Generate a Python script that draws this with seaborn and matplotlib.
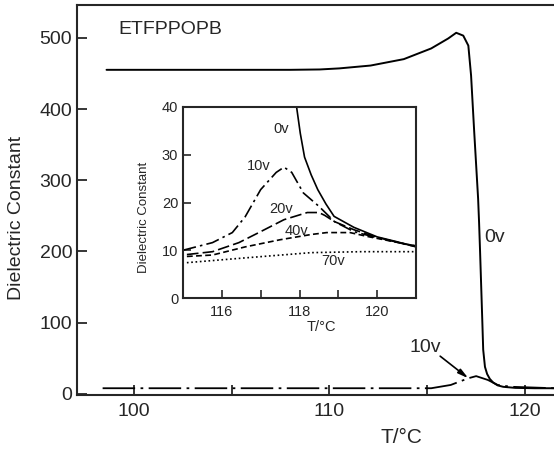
"""
ETFPPOPB dielectric constant vs temperature, with bias-voltage inset.
"""
import numpy as np
import pandas as pd
import matplotlib
matplotlib.use('Agg')
import matplotlib.pyplot as plt
import seaborn as sns

# ── data ───────────────────────────────────────────────────────────────────────
main_t_0v = [98.6, 100, 104, 108, 109.5, 110.5, 112.1, 113.8, 115.2, 116.07, 116.48,
             116.84, 117.1, 117.24, 117.4, 117.6, 117.65, 117.7, 117.81, 117.86, 117.95,
             118.06, 118.2, 118.37, 118.6, 118.88, 119.5, 120.5, 121.5]
main_e_0v = [455, 455, 455, 455, 455.5, 457, 461, 470, 485, 499, 507,
             503, 489, 447, 368, 274, 240, 200, 106, 62, 38,
             28, 21, 16, 12, 10, 8.5, 8, 8]
main_t_10v = [98.4, 100, 105, 110, 115.2, 116.2, 117.1, 117.5, 118.1, 118.6, 119.3, 121.5]
main_e_10v = [8, 8, 8, 8, 8, 12.6, 22, 25, 19.6, 12.6, 10, 8]

ins_t_0v = [117.88, 117.92, 118.02, 118.13, 118.3, 118.47, 118.68, 118.89, 119.4,
            120.0, 120.5, 121.0]
ins_e_0v = [45, 40.3, 34.5, 29.5, 25.8, 22.7, 19.7, 17.1, 14.8,
            12.8, 11.8, 10.7]
ins_t_10v = [115, 115.76, 116.27, 116.6, 117.0, 117.4, 117.6, 117.8, 118.1, 118.5,
             118.9, 119.4, 120.0, 120.8, 121]
ins_e_10v = [10, 11.6, 13.7, 17, 22.7, 26.3, 27.4, 26.3, 22, 19.2,
             16, 13.9, 12.6, 11.2, 10.9]
ins_t_20v = [115.1, 115.76, 116.44, 117.0, 117.6, 118.2, 118.5, 118.65, 118.9, 119.4,
             120, 120.8, 121]
ins_e_20v = [9.1, 9.7, 11.6, 13.9, 16.4, 17.9, 17.9, 17.3, 16, 14.3,
             12.7, 11.1, 10.8]
ins_t_40v = [115.1, 115.76, 116.6, 117.5, 118.3, 118.7, 119.3, 119.8, 120.3, 120.8, 121]
ins_e_40v = [8.7, 9, 10.7, 12.2, 13.3, 13.7, 13.7, 12.8, 12, 11.2, 10.9]
ins_t_70v = [115.1, 116.6, 118.3, 119.6, 120.8, 121]
ins_e_70v = [7.4, 8.4, 9.5, 9.7, 9.7, 9.7]

main_yticks = [0, 100, 200, 300, 400, 500]
main_xticks = [100, 110, 120]
main_xminor = [105, 115]
ins_yticks = [0, 10, 20, 30, 40]
ins_xticks = [116, 118, 120]
ins_xminor = [117, 119]

sns.set_style('ticks')
plt.rcParams['font.family'] = ['Liberation Sans', 'DejaVu Sans']
plt.rcParams['axes.linewidth'] = 1.5

fig = plt.figure(figsize=(5.54, 4.49), dpi=100)

# ── main axes ─────────────────────────────────────────────────────────────────
ax = fig.add_axes([77 / 554, (449 - 395) / 449, (554 - 77) / 554, 390 / 449])
sns.lineplot(x=main_t_0v, y=main_e_0v, ax=ax, color='black', lw=1.4, estimator=None)
sns.lineplot(x=main_t_10v, y=main_e_10v, ax=ax, color='black', lw=1.3, estimator=None,
             linestyle=(0, (18, 3, 1.5, 3)))
ax.set_xlim(97.09, 121.48)
ax.set_ylim(-1.5, 546)
ax.set_xticks(main_xticks)
ax.set_xticks(main_xminor, minor=True)
ax.set_yticks(main_yticks)
ax.tick_params(which='both', direction='in', length=7, width=1.3, labelsize=14)
ax.tick_params(axis='x', pad=6)
ax.spines['right'].set_visible(False)
ax.set_xlabel('T/°C', fontsize=15)
ax.xaxis.set_label_coords(0.681, -0.085)
ax.set_ylabel('Dielectric Constant', fontsize=14)
ax.yaxis.set_label_coords(-0.108, 0.455)

ax.text(99.23, 512, 'ETFPPOPB', fontsize=14, va='center', ha='left')
ax.text(118.42, 220, '0v', fontsize=14, va='center', ha='center')
ax.text(114.9, 65, '10v', fontsize=14, va='center', ha='center')
ax.annotate('', xy=(117.1, 22), xytext=(115.66, 53),
            arrowprops=dict(arrowstyle='-|>,head_length=0.6,head_width=0.15',
                            color='black', lw=1.2, shrinkA=0, shrinkB=0))

# ── inset ─────────────────────────────────────────────────────────────────────
ins = fig.add_axes([183 / 554, (449 - 298) / 449, (416 - 183) / 554, (298 - 107) / 449])
sns.lineplot(x=ins_t_0v, y=ins_e_0v, ax=ins, color='black', lw=1.2, estimator=None)
sns.lineplot(x=ins_t_10v, y=ins_e_10v, ax=ins, color='black', lw=1.2, estimator=None,
             linestyle=(0, (8, 2.5, 1.5, 2.5)))
sns.lineplot(x=ins_t_20v, y=ins_e_20v, ax=ins, color='black', lw=1.2, estimator=None,
             linestyle=(0, (7, 2.5)))
sns.lineplot(x=ins_t_40v, y=ins_e_40v, ax=ins, color='black', lw=1.2, estimator=None,
             linestyle=(0, (3.5, 2)))
sns.lineplot(x=ins_t_70v, y=ins_e_70v, ax=ins, color='black', lw=1.2, estimator=None,
             linestyle=(0, (1, 1.6)))
ins.set_xlim(115, 121)
ins.set_ylim(0, 40)
ins.set_xticks(ins_xticks)
ins.set_xticks(ins_xminor, minor=True)
ins.set_yticks(ins_yticks)
ins.tick_params(which='both', direction='in', length=6, width=1.2, labelsize=10.5)
ins.tick_params(axis='x', pad=5)
ins.set_xlabel('T/°C', fontsize=10.5)
ins.xaxis.set_label_coords(0.592, -0.115)
ins.set_ylabel('Dielectric Constant', fontsize=9.5)
ins.yaxis.set_label_coords(-0.14, 0.42)

for tx, ty, lab in [(117.53, 35.4, '0v'), (116.95, 27.6, '10v'), (117.53, 18.7, '20v'),
                    (117.91, 14.1, '40v'), (118.87, 7.8, '70v')]:
    ins.text(tx, ty, lab, fontsize=10.5, va='center', ha='center')

fig.savefig('out.png', dpi=100)
